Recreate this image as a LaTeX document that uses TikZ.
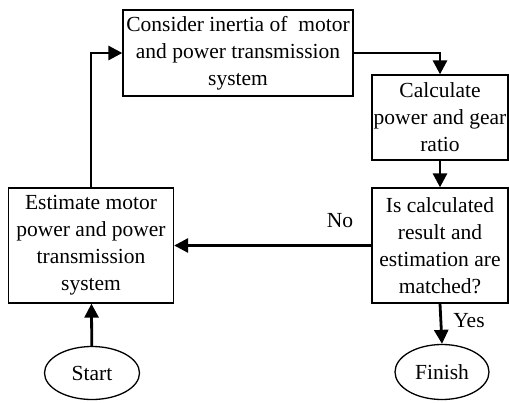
\documentclass[tikz,border=0pt]{standalone}
\usepackage{fontspec}
\setmainfont{Liberation Serif}
\usetikzlibrary{arrows.meta,shapes.geometric}
\begin{document}
\begin{tikzpicture}[x=1pt,y=-1pt,
  box/.style={draw,line width=1.3pt,align=center,inner sep=0pt,font=\fontsize{21.5}{27}\selectfont},
  term/.style={draw,ellipse,line width=1.3pt,inner sep=0pt,font=\fontsize{21.5}{27}\selectfont},
  flow/.style={line width=2.8pt,-{Triangle[length=14pt,width=14pt]}},
  lbl/.style={font=\fontsize{21.5}{27}\selectfont}]
\useasboundingbox (0,0) rectangle (509,402);
\node[box,minimum width=230pt,minimum height=86pt] (b1) at (238,53) {Consider inertia of\ \ motor\\and power transmission\\system};
\node[box,minimum width=136pt,minimum height=85pt] (b2) at (440,117.5) {Calculate\\power and gear\\ratio};
\node[box,minimum width=136pt,minimum height=115pt] (b3) at (440,245.5) {Is calculated\\result and\\estimation are\\matched?};
\node[box,minimum width=165pt,minimum height=115pt] (b4) at (91,245.5) {Estimate motor\\power and power\\transmission\\system};
\node[term,minimum width=95pt,minimum height=53pt] (start) at (92,373) {Start};
\node[term,minimum width=94pt,minimum height=55pt] (finish) at (442,372) {Finish};
\draw[flow] (start) -- (b4);
\draw[flow] (b4.north) |- (b1.west);
\draw[flow] (b1.east) -| (b2.north);
\draw[flow] (b2) -- (b3);
\draw[flow] (b3.west) -- (b4.east);
\draw[flow] (b3.south) -- (finish.north);
\node[lbl] (no) at (340,221) {No};
\node[lbl] (yes) at (469,321) {Yes};
\end{tikzpicture}
\end{document}
